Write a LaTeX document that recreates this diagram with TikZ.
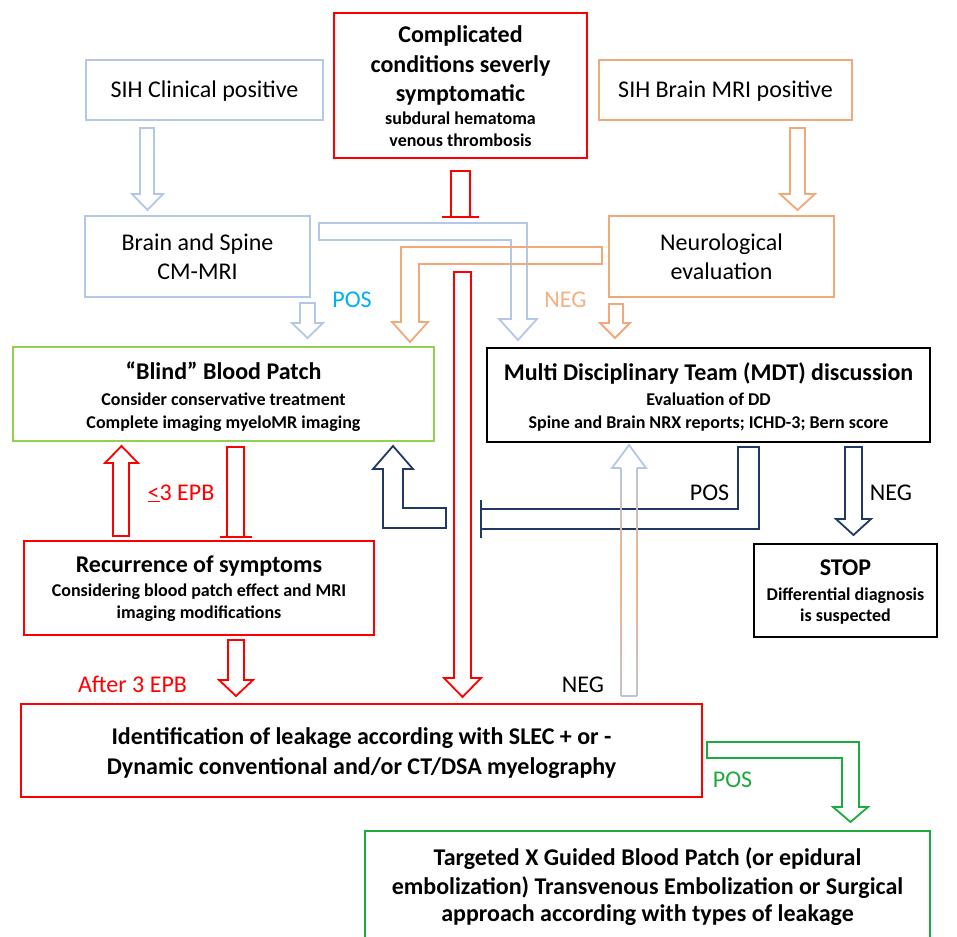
\documentclass[tikz,border=0pt]{standalone}
\usepackage{fontspec}
\setmainfont{Carlito}
\definecolor{lblue}{HTML}{B4C7E7}
\definecolor{lorange}{HTML}{F4B183}
\definecolor{oline}{HTML}{F2A878}
\definecolor{rred}{HTML}{FF0000}
\definecolor{lgreen}{HTML}{92D050}
\definecolor{dgreen}{HTML}{1EAA3C}
\definecolor{navy}{HTML}{203864}
\definecolor{cyanpos}{HTML}{00B0F0}
\begin{document}
\begin{tikzpicture}[x=1pt,y=-1pt,
  box/.style={draw, line width=2pt, rectangle, inner sep=0pt},
  blk/.style={line width=1.8pt, line join=miter},
  big/.style={font=\fontsize{24}{29}\selectfont},
  bigb/.style={font=\fontsize{24}{29}\selectfont\bfseries},
  smb/.style={font=\fontsize{18}{22}\selectfont\bfseries},
  txt/.style={inner sep=0pt, anchor=base}]
\useasboundingbox (0,0) rectangle (957,936);
\fill[white] (0,0) rectangle (957,936);

% ---------- boxes ----------
\node[box, draw=lblue, minimum width=237pt, minimum height=60pt] (clin) at (204.5,90) {};
\node[box, draw=rred, minimum width=253pt, minimum height=145pt] (comp) at (460.5,85.5) {};
\node[box, draw=oline, minimum width=253pt, minimum height=60pt] (mri) at (725.5,90) {};
\node[box, draw=lblue, minimum width=225pt, minimum height=81pt] (brain) at (197.5,256.5) {};
\node[box, draw=oline, minimum width=225pt, minimum height=81pt] (neuro) at (721.5,256.5) {};
\node[box, draw=lgreen, minimum width=421pt, minimum height=94pt] (blind) at (223.5,394) {};
\node[box, draw=black, minimum width=443pt, minimum height=94pt] (mdt) at (708.5,395) {};
\node[box, draw=rred, minimum width=350pt, minimum height=94pt] (recur) at (199,588) {};
\node[box, draw=black, minimum width=183pt, minimum height=93pt] (stop) at (845.5,590.5) {};
\node[box, draw=rred, minimum width=681pt, minimum height=93pt] (ident) at (361.5,750.5) {};
\node[box, draw=dgreen, minimum width=565pt, minimum height=120pt] (target) at (647.5,891) {};

% ---------- texts ----------
\node[txt, big] (tclin) at (204.5,98) {SIH Clinical positive};
\node[txt, bigb] (tcomp1) at (460.5,43) {Complicated};
\node[txt, bigb] (tcomp2) at (460.5,73) {conditions severly};
\node[txt, bigb] (tcomp3) at (460.5,102) {symptomatic};
\node[txt, smb] (tcomp4) at (460.5,125) {subdural hematoma};
\node[txt, smb] (tcomp5) at (460.5,147) {venous thrombosis};
\node[txt, big] (tmri) at (725.5,98) {SIH Brain MRI positive};
\node[txt, big] (tbrain1) at (197.5,250) {Brain and Spine};
\node[txt, big] (tbrain2) at (197.5,279) {CM-MRI};
\node[txt, big] (tneuro1) at (721.5,250) {Neurological};
\node[txt, big] (tneuro2) at (721.5,279) {evaluation};
\node[txt, bigb] (tblind1) at (223.5,379) {“Blind” Blood Patch};
\node[txt, smb] (tblind2) at (223.5,405) {Consider conservative treatment};
\node[txt, smb] (tblind3) at (223.5,428) {Complete imaging myeloMR imaging};
\node[txt, bigb] (tmdt1) at (708.5,380) {Multi Disciplinary Team (MDT) discussion};
\node[txt, smb] (tmdt2) at (708.5,405) {Evaluation of DD};
\node[txt, smb] (tmdt3) at (708.5,428) {Spine and Brain NRX reports; ICHD-3; Bern score};
\node[txt, bigb] (trec1) at (199,572) {Recurrence of symptoms};
\node[txt, smb] (trec2) at (199,596) {Considering blood patch effect and MRI};
\node[txt, smb] (trec3) at (199,618) {imaging modifications};
\node[txt, bigb] (tstop1) at (845.5,575) {STOP};
\node[txt, smb] (tstop2) at (845.5,600) {Differential diagnosis};
\node[txt, smb] (tstop3) at (845.5,621) {is suspected};
\node[txt, bigb] (tid1) at (361.5,744) {Identification of leakage according with SLEC + or -};
\node[txt, bigb] (tid2) at (361.5,774) {Dynamic conventional and/or CT/DSA myelography};
\node[txt, bigb] (ttg1) at (647.5,865) {Targeted X Guided Blood Patch (or epidural};
\node[txt, bigb] (ttg2) at (647.5,894) {embolization) Transvenous Embolization or Surgical};
\node[txt, bigb] (ttg3) at (647.5,921) {approach according with types of leakage};

% labels
\node[txt, big, text=cyanpos] (lpos1) at (352,307) {POS};
\node[txt, big, text=lorange] (lneg1) at (565.5,307) {NEG};
\node[txt, big, text=rred] (lepb) at (181,500) {\underline{<}3 EPB};
\node[txt, big] (lpos2) at (709.5,500) {POS};
\node[txt, big] (lneg2) at (891,500) {NEG};
\node[txt, big] (lneg3) at (583,692) {NEG};
\node[txt, big, text=dgreen] (lpos3) at (732.5,787) {POS};
\node[txt, big, text=rred] (lafter) at (132.5,692) {After 3 EPB};

% ---------- block arrows ----------
% clinical -> brain
\draw[blk, lblue] (140,128) -- (154,128) -- (154,194) -- (163,194) -- (147.5,210) -- (132,194) -- (140,194) -- cycle;
% mri -> neuro
\draw[blk, oline] (790,128) -- (805,128) -- (805,194) -- (815,194) -- (797.5,210) -- (780,194) -- (790,194) -- cycle;
% complicated T-bar
\draw[blk, rred] (451,217) -- (451,171) -- (470,171) -- (470,217);
\draw[blk, rred] (442,217) -- (479,217);
% brain -> MDT (blue L)
\draw[blk, lblue] (319,223) -- (527,223) -- (527,319) -- (537,319) -- (518,340) -- (499,319) -- (511,319) -- (511,240) -- (319,240) -- cycle;
% neuro -> blind (orange L)
\draw[blk, oline] (602,247) -- (602,264) -- (419,264) -- (419,322) -- (428,322) -- (410,342) -- (392,322) -- (401,322) -- (401,247) -- cycle;
% long red arrow to identification
\draw[blk, rred] (454,272) -- (471,272) -- (471,678) -- (481,678) -- (462.5,697) -- (444,678) -- (454,678) -- cycle;
% small POS arrow brain -> blind
\draw[blk, lblue] (300,303) -- (315,303) -- (315,323) -- (323,323) -- (307.5,338) -- (292,323) -- (300,323) -- cycle;
% small arrow neuro -> MDT
\draw[blk, oline] (609,304) -- (623,304) -- (623,323) -- (630,323) -- (615,338) -- (600,323) -- (609,323) -- cycle;
% recurrence -> blind (up)
\draw[blk, rred] (113,536) -- (113,463) -- (105,463) -- (121.5,446) -- (138,463) -- (129,463) -- (129,536) -- cycle;
% blind -| recurrence T-bar
\draw[blk, rred] (227,537) -- (227,447) -- (244,447) -- (244,537);
\draw[blk, rred] (220,537) -- (252,537);
% navy L up arrow to blind
\draw[blk, navy] (446,508) -- (446,528) -- (383,528) -- (383,469) -- (373,469) -- (393,446) -- (413,469) -- (403,469) -- (403,508) -- cycle;
% MDT POS T-shape
\draw[blk, navy] (481,509) -- (738,509) -- (738,447) -- (759,447) -- (759,529) -- (481,529);
\draw[blk, navy] (481,500) -- (481,538);
% MDT NEG -> STOP
\draw[blk, navy] (845,447) -- (862,447) -- (862,519) -- (871,519) -- (853.5,535) -- (836,519) -- (845,519) -- cycle;
% identification NEG -> MDT (gradient outline)
\draw[blk, lblue] (621,468) -- (612,468) -- (629,445) -- (646,468) -- (637,468);
\foreach \i [evaluate=\i as \p using {ifthenelse(474+\i*12<570, 100*(570-(474+\i*12))/102, 70*((474+\i*12)-570)/126)}] in {0,...,18}{
  \draw[line width=1.8pt, color=lblue!\p!lorange] (621,468+\i*12) -- (621,480+\i*12);
  \draw[line width=1.8pt, color=lblue!\p!lorange] (637,468+\i*12) -- (637,480+\i*12);
}
\draw[line width=1.8pt, color=lblue!70!lorange] (621,696) -- (637,696);
% recurrence -> identification
\draw[blk, rred] (228,640) -- (244,640) -- (244,680) -- (253,680) -- (236,696) -- (219,680) -- (228,680) -- cycle;
% identification POS -> targeted (green L)
\draw[blk, dgreen] (707,742) -- (859,742) -- (859,807) -- (868,807) -- (850.5,822) -- (833,807) -- (842,807) -- (842,758) -- (707,758) -- cycle;
\end{tikzpicture}
\end{document}
